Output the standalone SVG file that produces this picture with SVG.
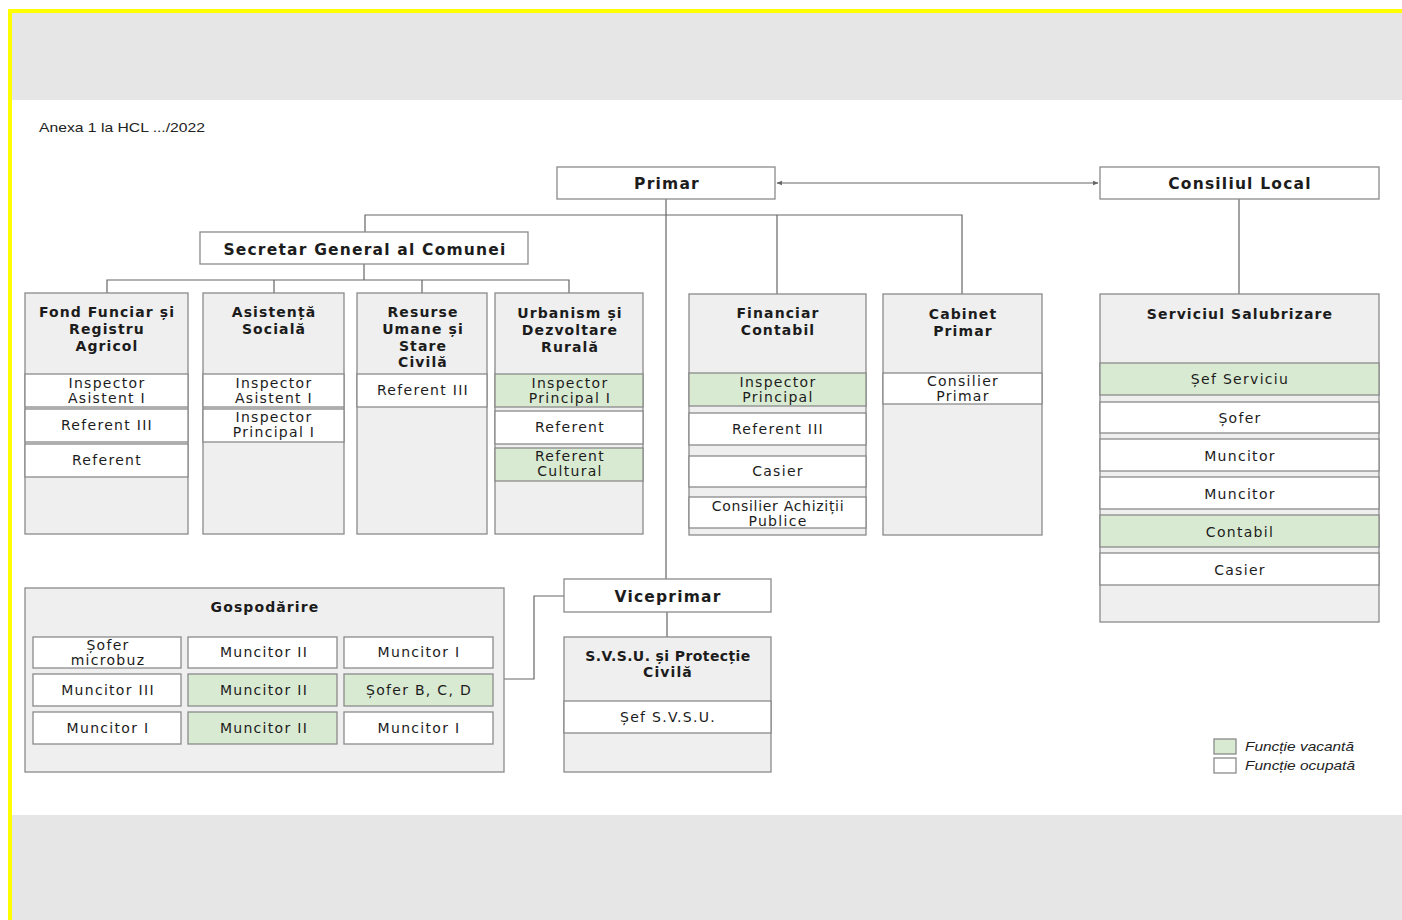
<svg xmlns="http://www.w3.org/2000/svg" width="1402" height="920" viewBox="0 0 1402 920">
<defs>
<style>
.bx{fill:#efefef;stroke:#8a8a8a;stroke-width:1.3}
.w{fill:#ffffff;stroke:#8a8a8a;stroke-width:1.3}
.g{fill:#d9ead3;stroke:#8a8a8a;stroke-width:1.3}
.ln{fill:none;stroke:#666666;stroke-width:1.2}
.h{font-family:"DejaVu Sans",sans-serif;font-weight:bold;font-size:14px;fill:#1c1c1c;text-anchor:middle;letter-spacing:1.1px}
.hb{font-family:"DejaVu Sans",sans-serif;font-weight:bold;font-size:15.5px;fill:#1c1c1c;text-anchor:middle;letter-spacing:1.2px}
.t{font-family:"DejaVu Sans",sans-serif;font-size:14px;fill:#1c1c1c;text-anchor:middle;letter-spacing:1.3px}
.lg{font-family:"Liberation Sans",Arial,sans-serif;font-style:italic;font-size:13px;fill:#222}
</style>
<marker id="ar" viewBox="0 0 10 10" refX="9" refY="5" markerWidth="5" markerHeight="5" orient="auto-start-reverse"><path d="M0,1 L10,5 L0,9 z" fill="#666666"/></marker>
</defs>
<rect x="0" y="0" width="1402" height="920" fill="#ffffff"/>
<rect x="10" y="10" width="1392" height="90" fill="#e6e6e6"/>
<rect x="10" y="815" width="1392" height="105" fill="#e6e6e6"/>
<rect x="8" y="9" width="1394" height="4" fill="#ffff00"/>
<rect x="8" y="9" width="4" height="911" fill="#ffff00"/>
<text x="39" y="132" font-family="Liberation Sans, Arial, sans-serif" font-size="13.5" fill="#222" textLength="166" lengthAdjust="spacingAndGlyphs">Anexa 1 la HCL .../2022</text>

<g id="connectors">
<line class="ln" x1="777" y1="183" x2="1098" y2="183" marker-start="url(#ar)" marker-end="url(#ar)"/>
<polyline class="ln" points="666,199 666,579"/>
<polyline class="ln" points="365,232 365,215 962,215 962,294"/>
<line class="ln" x1="777" y1="215" x2="777" y2="294"/>
<polyline class="ln" points="364,264 364,280"/>
<polyline class="ln" points="107,293 107,280 569,280 569,293"/>
<line class="ln" x1="274" y1="280" x2="274" y2="293"/>
<line class="ln" x1="422" y1="280" x2="422" y2="293"/>
<line class="ln" x1="1239" y1="199" x2="1239" y2="294"/>
<polyline class="ln" points="504,679 534,679 534,596 564,596"/>
<line class="ln" x1="667" y1="612" x2="667" y2="637"/>
</g>

<g id="primar">
<rect class="w" x="557" y="167" width="218" height="32"/>
<text class="hb" x="667" y="189">Primar</text>
</g>
<g id="consiliul-local">
<rect class="w" x="1100" y="167" width="279" height="32"/>
<text class="hb" x="1240" y="189">Consiliul Local</text>
</g>
<g id="secretar">
<rect class="w" x="200" y="232" width="328" height="32"/>
<text class="hb" x="365" y="255">Secretar General al Comunei</text>
</g>

<g id="fond-funciar">
<rect class="bx" x="25" y="293" width="163" height="241"/>
<text class="h" x="107" y="317">Fond Funciar și</text>
<text class="h" x="107" y="334">Registru</text>
<text class="h" x="107" y="351">Agricol</text>
<rect class="w" x="25" y="374" width="163" height="33"/>
<text class="t" x="107" y="388">Inspector</text>
<text class="t" x="107" y="403">Asistent I</text>
<rect class="w" x="25" y="409" width="163" height="33"/>
<text class="t" x="107" y="430">Referent III</text>
<rect class="w" x="25" y="444" width="163" height="33"/>
<text class="t" x="107" y="465">Referent</text>
</g>

<g id="asistenta-sociala">
<rect class="bx" x="203" y="293" width="141" height="241"/>
<text class="h" x="274" y="317">Asistență</text>
<text class="h" x="274" y="334">Socială</text>
<rect class="w" x="203" y="374" width="141" height="33"/>
<text class="t" x="274" y="388">Inspector</text>
<text class="t" x="274" y="403">Asistent I</text>
<rect class="w" x="203" y="409" width="141" height="33"/>
<text class="t" x="274" y="422">Inspector</text>
<text class="t" x="274" y="437">Principal I</text>
</g>

<g id="resurse-umane">
<rect class="bx" x="357" y="293" width="130" height="241"/>
<text class="h" x="423" y="317">Resurse</text>
<text class="h" x="423" y="334">Umane și</text>
<text class="h" x="423" y="351">Stare</text>
<text class="h" x="423" y="367">Civilă</text>
<rect class="w" x="357" y="374" width="130" height="33"/>
<text class="t" x="423" y="395">Referent III</text>
</g>

<g id="urbanism">
<rect class="bx" x="495" y="293" width="148" height="241"/>
<text class="h" x="570" y="318">Urbanism și</text>
<text class="h" x="570" y="335">Dezvoltare</text>
<text class="h" x="570" y="352">Rurală</text>
<rect class="g" x="495" y="374" width="148" height="33"/>
<text class="t" x="570" y="388">Inspector</text>
<text class="t" x="570" y="403">Principal I</text>
<rect class="w" x="495" y="411" width="148" height="33"/>
<text class="t" x="570" y="432">Referent</text>
<rect class="g" x="495" y="448" width="148" height="33"/>
<text class="t" x="570" y="461">Referent</text>
<text class="t" x="570" y="476">Cultural</text>
</g>

<g id="financiar-contabil">
<rect class="bx" x="689" y="294" width="177" height="241"/>
<text class="h" x="778" y="318">Financiar</text>
<text class="h" x="778" y="335">Contabil</text>
<rect class="g" x="689" y="373" width="177" height="33"/>
<text class="t" x="778" y="387">Inspector</text>
<text class="t" x="778" y="402">Principal</text>
<rect class="w" x="689" y="413" width="177" height="32"/>
<text class="t" x="778" y="434">Referent III</text>
<rect class="w" x="689" y="456" width="177" height="31"/>
<text class="t" x="778" y="476">Casier</text>
<rect class="w" x="689" y="497" width="177" height="31"/>
<text class="t" x="778" y="511" style="letter-spacing:0.7px">Consilier Achiziții</text>
<text class="t" x="778" y="526">Publice</text>
</g>

<g id="cabinet-primar">
<rect class="bx" x="883" y="294" width="159" height="241"/>
<text class="h" x="963" y="319">Cabinet</text>
<text class="h" x="963" y="336">Primar</text>
<rect class="w" x="883" y="373" width="159" height="31"/>
<text class="t" x="963" y="386">Consilier</text>
<text class="t" x="963" y="401">Primar</text>
</g>

<g id="serviciul-salubrizare">
<rect class="bx" x="1100" y="294" width="279" height="328"/>
<text class="h" x="1240" y="319">Serviciul Salubrizare</text>
<rect class="g" x="1100" y="363" width="279" height="32"/>
<text class="t" x="1240" y="384">Șef Serviciu</text>
<rect class="w" x="1100" y="402" width="279" height="31"/>
<text class="t" x="1240" y="423">Șofer</text>
<rect class="w" x="1100" y="439" width="279" height="32"/>
<text class="t" x="1240" y="461">Muncitor</text>
<rect class="w" x="1100" y="477" width="279" height="32"/>
<text class="t" x="1240" y="499">Muncitor</text>
<rect class="g" x="1100" y="515" width="279" height="32"/>
<text class="t" x="1240" y="537">Contabil</text>
<rect class="w" x="1100" y="553" width="279" height="32"/>
<text class="t" x="1240" y="575">Casier</text>
</g>

<g id="gospodarire">
<rect class="bx" x="25" y="588" width="479" height="184"/>
<text class="h" x="265" y="612">Gospodărire</text>
<rect class="w" x="33" y="637" width="148" height="31"/>
<text class="t" x="108" y="650">Șofer</text>
<text class="t" x="108" y="665">microbuz</text>
<rect class="w" x="188" y="637" width="149" height="31"/>
<text class="t" x="264" y="657">Muncitor II</text>
<rect class="w" x="344" y="637" width="149" height="31"/>
<text class="t" x="419" y="657">Muncitor I</text>
<rect class="w" x="33" y="674" width="148" height="32"/>
<text class="t" x="108" y="695">Muncitor III</text>
<rect class="g" x="188" y="674" width="149" height="32"/>
<text class="t" x="264" y="695">Muncitor II</text>
<rect class="g" x="344" y="674" width="149" height="32"/>
<text class="t" x="419" y="695">Șofer B, C, D</text>
<rect class="w" x="33" y="712" width="148" height="32"/>
<text class="t" x="108" y="733">Muncitor I</text>
<rect class="g" x="188" y="712" width="149" height="32"/>
<text class="t" x="264" y="733">Muncitor II</text>
<rect class="w" x="344" y="712" width="149" height="32"/>
<text class="t" x="419" y="733">Muncitor I</text>
</g>

<g id="viceprimar">
<rect class="w" x="564" y="579" width="207" height="33"/>
<text class="hb" x="668" y="602">Viceprimar</text>
</g>

<g id="svsu">
<rect class="bx" x="564" y="637" width="207" height="135"/>
<text class="h" x="668" y="661" style="letter-spacing:0.4px">S.V.S.U. și Protecție</text>
<text class="h" x="668" y="677">Civilă</text>
<rect class="w" x="564" y="701" width="207" height="32"/>
<text class="t" x="668" y="722">Șef S.V.S.U.</text>
</g>

<g id="legend">
<rect class="g" x="1214" y="739" width="22" height="15"/>
<text class="lg" x="1245" y="751" textLength="109" lengthAdjust="spacingAndGlyphs">Funcție vacantă</text>
<rect class="w" x="1214" y="758" width="22" height="15"/>
<text class="lg" x="1245" y="770" textLength="110" lengthAdjust="spacingAndGlyphs">Funcție ocupată</text>
</g>
</svg>
